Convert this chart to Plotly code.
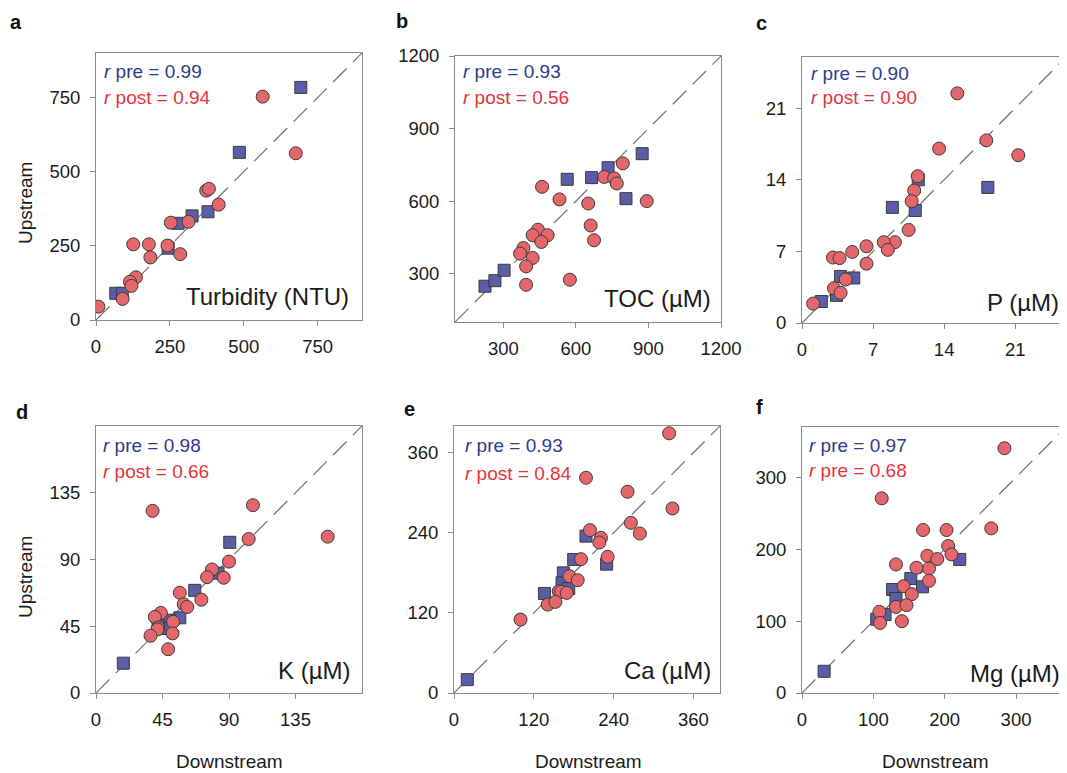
import plotly.graph_objects as go

# The page body has an 8px margin, so the figure is drawn 8px in from the
# top-left of the window; it is sized so that it ends at the window's edges.
PAGE_W, PAGE_H = 1067, 773
OFF = 8
W, H = PAGE_W - OFF, PAGE_H - OFF
FONT = "Liberation Sans, Arial, sans-serif"

# ---------------- data ----------------
panel_letters = ["a", "b", "c", "d", "e", "f"]
panel_names = ["Turbidity (NTU)", "TOC (µM)", "P (µM)", "K (µM)", "Ca (µM)", "Mg (µM)"]
r_pre_text = ["<i>r</i> pre = 0.99", "<i>r</i> pre = 0.93", "<i>r</i> pre = 0.90",
              "<i>r</i> pre = 0.98", "<i>r</i> pre = 0.93", "<i>r</i> pre = 0.97"]
r_post_text = ["<i>r</i> post = 0.94", "<i>r</i> post = 0.56", "<i>r</i> post = 0.90",
               "<i>r</i> post = 0.66", "<i>r</i> post = 0.84", "<i>r</i> pre = 0.68"]
axis_ranges = [[0, 900], [100, 1200], [0, 26], [0, 180], [0, 400], [0, 370]]
tick_vals = [[0, 250, 500, 750], [300, 600, 900, 1200], [0, 7, 14, 21],
             [0, 45, 90, 135], [0, 120, 240, 360], [0, 100, 200, 300]]

# a: Turbidity
turb_pre_x = [693, 485, 379, 325, 278, 244, 67, 89]
turb_pre_y = [784, 565, 365, 351, 326, 242, 90, 90]
turb_post_x = [564, 676, 373, 382, 415, 253, 313, 126, 179, 184, 242, 285, 135, 115, 120, 90, 8]
turb_post_y = [753, 562, 436, 442, 389, 328, 331, 255, 255, 211, 251, 222, 144, 129, 115, 71, 45]

# b: TOC
toc_pre_x = [224, 265, 303, 564, 665, 733, 874, 807]
toc_pre_y = [248, 271, 314, 690, 697, 738, 796, 610]
toc_post_x = [794, 717, 758, 769, 460, 532, 651, 893, 661, 675, 443, 421, 483, 457, 383, 369, 421, 394, 394, 575]
toc_post_y = [756, 700, 694, 673, 659, 607, 590, 600, 499, 438, 482, 459, 459, 431, 406, 383, 365, 330, 254, 275]

# c: P
p_pre_x = [1.9, 3.4, 3.8, 5.1, 8.9, 11.15, 11.45, 18.3]
p_pre_y = [2.1, 2.7, 4.55, 4.4, 11.3, 11.0, 14.0, 13.25]
p_post_x = [15.3, 18.15, 21.3, 13.5, 11.4, 11.05, 10.8, 10.5, 9.15, 8.05, 8.45, 6.35, 4.95, 3.05, 3.7, 6.35, 4.3, 3.15, 3.8, 1.1]
p_post_y = [22.45, 17.85, 16.4, 17.05, 14.35, 12.95, 11.9, 9.1, 7.9, 7.9, 7.15, 7.5, 6.95, 6.4, 6.35, 5.8, 4.25, 3.4, 2.95, 1.9]

# d: K
k_pre_x = [18.5, 90.5, 82.6, 66.8, 56.7, 49.5, 47.0, 42.0]
k_pre_y = [20.1, 101.6, 80.8, 69.2, 50.7, 49.1, 43.5, 45.8]
k_post_x = [38.3, 106.2, 156.8, 103.3, 90.0, 78.5, 75.2, 86.4, 56.7, 71.3, 59.4, 61.7, 43.9, 39.8, 52.2, 42.1, 41.6, 51.8, 36.9, 48.8]
k_post_y = [122.8, 126.6, 105.4, 103.8, 88.6, 83.3, 78.1, 77.7, 67.6, 62.9, 59.8, 58.0, 54.0, 51.3, 48.0, 44.2, 42.9, 40.2, 38.6, 29.5]

# e: Ca
ca_pre_x = [20, 136, 164.5, 162.5, 172.5, 180, 198.5, 229.5]
ca_pre_y = [20, 149, 180, 165, 156.5, 200, 235, 193]
ca_post_x = [323.5, 198.5, 261, 328.5, 266, 279.5, 204.5, 221, 218.5, 231, 191, 173.5, 186, 157.5, 161, 169.5, 141, 152.5, 100]
ca_post_y = [389, 322.5, 301.5, 276.5, 255, 239, 244, 232.5, 225.5, 204, 200.5, 175, 169, 152.5, 151.5, 150, 132.5, 136.5, 110]

# f: Mg
mg_pre_x = [31, 221, 152.5, 168.8, 127, 131.7, 116.4, 104.8]
mg_pre_y = [30.2, 185.8, 159.3, 147.7, 144, 131.4, 109.1, 102.6]
mg_post_x = [283.7, 111.7, 265.2, 169.7, 202.6, 204.9, 209.5, 175.7, 189.6, 178, 131.7, 160.4, 178, 142.3, 153.9, 131.7, 146.5, 140, 108.5, 109.4]
mg_post_y = [340.5, 270.8, 229, 226.7, 226.7, 204.4, 192.8, 190.9, 186.3, 173.2, 178.8, 174.2, 156.1, 148.6, 137.5, 119.8, 122.2, 99.9, 112.9, 97.5]

pre_x = [turb_pre_x, toc_pre_x, p_pre_x, k_pre_x, ca_pre_x, mg_pre_x]
pre_y = [turb_pre_y, toc_pre_y, p_pre_y, k_pre_y, ca_pre_y, mg_pre_y]
post_x = [turb_post_x, toc_post_x, p_post_x, k_post_x, ca_post_x, mg_post_x]
post_y = [turb_post_y, toc_post_y, p_post_y, k_post_y, ca_post_y, mg_post_y]

# ---------------- layout geometry (window pixels) ----------------
# frame boxes: left, right, top, bottom
boxes = [(96, 362, 53, 320), (455, 721, 56, 322), (802, 1066, 57, 323),
         (96, 362, 426, 693), (454, 720, 426, 693), (802, 1066, 427, 693)]
letter_pos = [(16, 10), (402, 9), (761, 11), (22, 400), (409, 397), (759, 395)]
rtext_pos = [(102, 71, 97), (461, 71, 97), (809, 73, 97), (101, 445, 472), (463, 445, 474), (807, 445, 471)]
name_pos = [(351, 296), (713, 298), (1061, 302), (352, 670), (713, 670), (1062, 673)]
up_pos = [(25, 203), (25, 577)]
down_pos = [(229, 761), (588, 761), (935, 761)]

BLUE_FILL = "#5a5ea9"
RED_FILL = "#e5676b"
EDGE = "#3a3a3a"
BLUE_TXT = "#2e3b8e"
RED_TXT = "#e6333b"
FRAME = "#8a8a8a"

def px(x):
    return (x - OFF) / W

def py(y):
    return 1 - (y - OFF) / H

fig = go.Figure()
annotations = []
layout_axes = {}

for i in range(6):
    n = i + 1
    xa = "x" if n == 1 else f"x{n}"
    ya = "y" if n == 1 else f"y{n}"
    xkey = "xaxis" if n == 1 else f"xaxis{n}"
    ykey = "yaxis" if n == 1 else f"yaxis{n}"
    l, r, t, b = boxes[i]
    rng = axis_ranges[i]

    # identity line
    fig.add_trace(go.Scatter(x=rng, y=rng, mode="lines", xaxis=xa, yaxis=ya,
                             line=dict(color="#707070", width=1.2, dash="19px,9px"),
                             hoverinfo="skip", showlegend=False))
    fig.add_trace(go.Scatter(x=pre_x[i], y=pre_y[i], mode="markers", xaxis=xa, yaxis=ya,
                             marker=dict(symbol="square", size=12, color=BLUE_FILL,
                                         line=dict(color=EDGE, width=1)),
                             showlegend=False))
    fig.add_trace(go.Scatter(x=post_x[i], y=post_y[i], mode="markers", xaxis=xa, yaxis=ya,
                             marker=dict(symbol="circle", size=13, color=RED_FILL,
                                         line=dict(color=EDGE, width=1)),
                             showlegend=False))

    common = dict(range=rng, showgrid=False, zeroline=False, showline=True, mirror=True,
                  linecolor=FRAME, linewidth=1, ticks="outside", ticklen=5, tickcolor=FRAME,
                  tickmode="array", tickvals=tick_vals[i], automargin=False,
                  tickfont=dict(family=FONT, size=18.5, color="#1a1a1a"))
    layout_axes[xkey] = dict(common, domain=[px(l), px(r)], anchor=ya, ticklabelstandoff=5)
    layout_axes[ykey] = dict(common, domain=[py(b), py(t)], anchor=xa, ticklabelstandoff=6)

    lx, ly = letter_pos[i]
    annotations.append(dict(text=f"<b>{panel_letters[i]}</b>", x=px(lx), y=py(ly), xref="paper", yref="paper",
                            xanchor="center", yanchor="top", showarrow=False, borderpad=0,
                            font=dict(family=FONT, size=20, color="#111")))
    rx, ry1, ry2 = rtext_pos[i]
    annotations.append(dict(text=r_pre_text[i], x=px(rx), y=py(ry1), xref="paper", yref="paper",
                            xanchor="left", yanchor="middle", showarrow=False,
                            font=dict(family=FONT, size=19, color=BLUE_TXT)))
    annotations.append(dict(text=r_post_text[i], x=px(rx), y=py(ry2), xref="paper", yref="paper",
                            xanchor="left", yanchor="middle", showarrow=False,
                            font=dict(family=FONT, size=19, color=RED_TXT)))
    nx, ny = name_pos[i]
    annotations.append(dict(text=panel_names[i], x=px(nx), y=py(ny), xref="paper", yref="paper",
                            xanchor="right", yanchor="middle", showarrow=False,
                            font=dict(family=FONT, size=24, color="#1a1a1a")))

for ux, uy in up_pos:
    annotations.append(dict(text="Upstream", x=px(ux), y=py(uy), xref="paper", yref="paper",
                            xanchor="center", yanchor="middle", textangle=-90, showarrow=False,
                            font=dict(family=FONT, size=19, color="#1a1a1a")))
for dx, dy in down_pos:
    annotations.append(dict(text="Downstream", x=px(dx), y=py(dy), xref="paper", yref="paper",
                            xanchor="center", yanchor="middle", showarrow=False,
                            font=dict(family=FONT, size=19, color="#1a1a1a")))

fig.update_layout(width=W, height=H, margin=dict(l=0, r=0, t=0, b=0, autoexpand=False),
                  paper_bgcolor="white", plot_bgcolor="white",
                  annotations=annotations, **layout_axes)

fig.write_html("out.html")
